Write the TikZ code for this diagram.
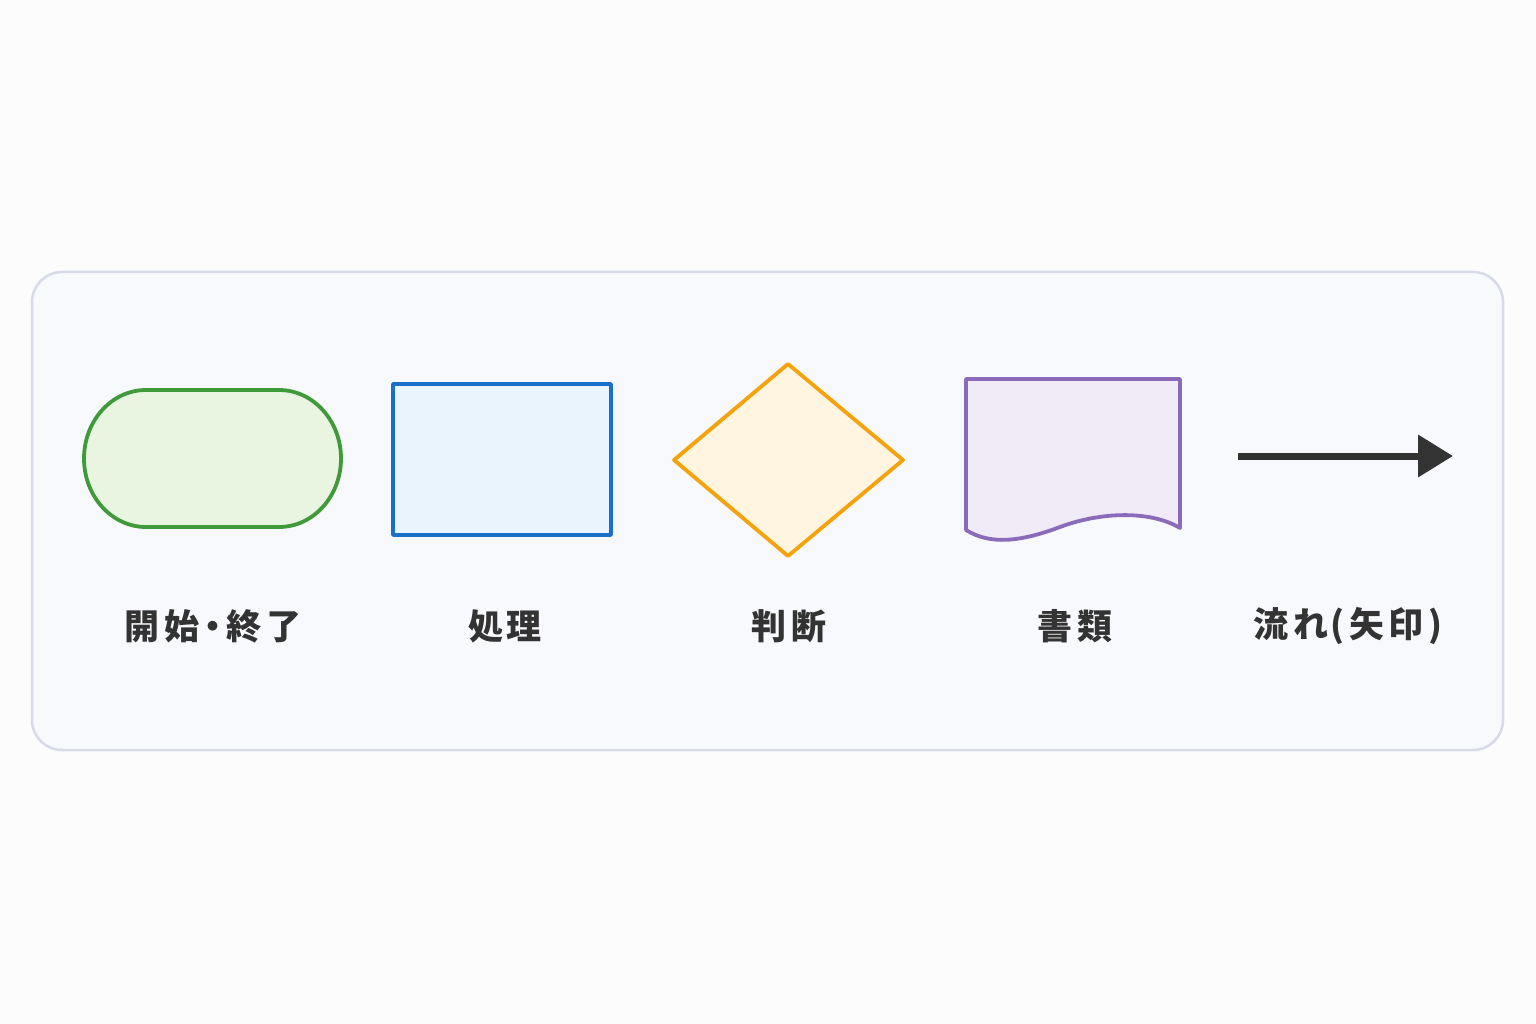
\documentclass[tikz,border=0pt]{standalone}
\usepackage{fontspec}
\newfontfamily\cjk[LetterSpace=14]{Noto Sans CJK JP}
\usetikzlibrary{arrows.meta}
\definecolor{bgc}{HTML}{FCFCFD}
\definecolor{panelfill}{HTML}{F8F9FC}
\definecolor{paneledge}{HTML}{D6DBE7}
\definecolor{gstroke}{HTML}{3F9A3A}
\definecolor{gfill}{HTML}{E9F5E1}
\definecolor{bstroke}{HTML}{1A6FC9}
\definecolor{bfill}{HTML}{EAF4FD}
\definecolor{ostroke}{HTML}{F5A30C}
\definecolor{ofill}{HTML}{FFF5E1}
\definecolor{pstroke}{HTML}{8A6BBA}
\definecolor{pfill}{HTML}{F1EBF8}
\definecolor{txt}{HTML}{333333}
\tikzset{
  shapeline/.style={line width=3.8pt, line join=round},
  lbl/.style={font=\cjk\bfseries\fontsize{35pt}{40pt}\selectfont, text=txt, anchor=center, inner sep=0pt},
}
\begin{document}
\begin{tikzpicture}[x=1pt,y=-1pt]
\useasboundingbox (0,0) rectangle (1536,1024);
\fill[bgc] (0,0) rectangle (1536,1024);
% panel
\draw[fill=panelfill, draw=paneledge, line width=2.5pt, rounded corners=30pt] (32,272) rectangle (1503,750);
% terminal
\draw[shapeline, draw=gstroke, fill=gfill] (146,390) -- (279,390)
  arc[start angle=-90, end angle=90, x radius=62, y radius=68.5]
  -- (146,527)
  arc[start angle=90, end angle=270, x radius=62, y radius=68.5] -- cycle;
% process
\draw[shapeline, draw=bstroke, fill=bfill] (393,384) rectangle (611,535);
% decision
\draw[shapeline, draw=ostroke, fill=ofill] (788,364) -- (903,460) -- (788,556) -- (674,460) -- cycle;
% document
\draw[shapeline, draw=pstroke, fill=pfill] (966,379) -- (1180,379) -- (1180,528)
  .. controls (1150,510) and (1100,512) .. (1060,527)
  .. controls (1020,542) and (990,545) .. (966,530) -- cycle;
% arrow
\coordinate (a0) at (1238,456);
\coordinate (a1) at (1453,456);
\draw[line width=7pt, draw=txt, -{Triangle[length=35pt,width=41pt]}] (a0) -- (a1);
% labels
\node[lbl] (l1) at (213,626) {開始\hspace{-4pt}・\hspace{-4pt}終了};
\node[lbl] (l2) at (505,626) {処\hspace{4pt}理};
\node[lbl] (l3) at (789,626) {判断};
\node[lbl] (l4) at (1075,626) {書類};
\node[lbl] (l5) at (1348,626) {流れ\hspace{2pt}(矢印)};
\end{tikzpicture}
\end{document}
